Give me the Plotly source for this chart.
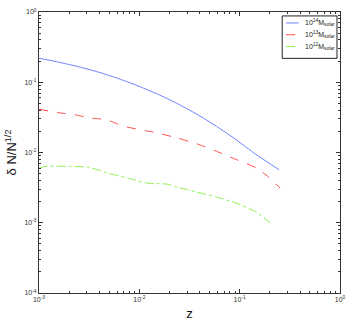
import plotly.graph_objects as go

# ---------------------------------------------------------
# DATA
# ---------------------------------------------------------

z_14 = [0.001, 0.001534, 0.002404, 0.003774, 0.005918, 0.009277, 0.01521, 0.02387,
        0.03743, 0.05871, 0.09204, 0.1445, 0.2477]
dn_14 = [0.220, 0.1945, 0.1680, 0.1415, 0.1153, 0.0910, 0.0678, 0.0498,
         0.0351, 0.0236, 0.01524, 0.00944, 0.00567]

z_13 = [0.001, 0.001534, 0.002404, 0.003013, 0.003774, 0.004723, 0.005918, 0.00741,
        0.01161, 0.01521, 0.02387, 0.03743, 0.05871, 0.09204, 0.1445, 0.1936, 0.2535]
dn_13 = [0.0413, 0.0370, 0.0340, 0.0314, 0.0304, 0.0292, 0.0259, 0.0232,
         0.0204, 0.0189, 0.0161, 0.0133, 0.01043, 0.00796, 0.00609, 0.00449, 0.00311]

z_12 = [0.001, 0.001146, 0.00201, 0.00315, 0.00494, 0.00775, 0.01216, 0.01905, 0.0239,
        0.0374, 0.0587, 0.092, 0.1445, 0.2023]
dn_12 = [0.00595, 0.00635, 0.00635, 0.00615, 0.00506, 0.0043, 0.00366, 0.00354, 0.00321,
         0.00273, 0.00232, 0.00191, 0.00143, 0.0010]

names = ["10<sup>14</sup>M<sub>solar</sub>",
         "10<sup>13</sup>M<sub>solar</sub>",
         "10<sup>12</sup>M<sub>solar</sub>"]

x_major = [-3, -2, -1, 0]
y_major = [-4, -3, -2, -1, 0]

# ---------------------------------------------------------
# STYLE
# ---------------------------------------------------------

FONT = "Liberation Sans, Arial, sans-serif"
COLORS = ["#6b83ff", "#ff4d4d", "#8fef4f"]
DASHES = ["solid", "dash", "dashdot"]

fig = go.Figure()

series = [(z_14, dn_14), (z_13, dn_13), (z_12, dn_12)]
for (zz, dd), name, col, dash in zip(series, names, COLORS, DASHES):
    fig.add_trace(go.Scatter(
        x=zz, y=dd, mode="lines", name=name, showlegend=False,
        line=dict(color=col, width=1, dash=dash, shape="spline", smoothing=0.6),
    ))


def minor_vals(decades):
    vals = []
    for d in decades[:-1]:
        for m in range(2, 10):
            vals.append(m * 10 ** d)
    return vals


axis_common = dict(
    type="log",
    showgrid=False,
    zeroline=False,
    showline=True,
    linecolor="#333333",
    linewidth=1,
    mirror="allticks",
    ticks="inside",
    ticklen=4,
    tickcolor="#333333",
    tickfont=dict(family=FONT, size=7, color="#333333"),
)

fig.update_xaxes(
    **axis_common,
    range=[-3, 0],
    tickmode="array",
    tickvals=[10 ** d for d in x_major],
    ticktext=[f"10<sup>{d}</sup>" for d in x_major],
    minor=dict(tickmode="array", tickvals=minor_vals(x_major), ticks="inside",
               ticklen=2, tickcolor="#333333"),
    title=dict(text="z", font=dict(family=FONT, size=13, color="#111111"), standoff=6),
)

fig.update_yaxes(
    **axis_common,
    range=[-4, 0],
    tickmode="array",
    tickvals=[10 ** d for d in y_major],
    ticktext=[f"10<sup>{d}</sup>" for d in y_major],
    minor=dict(tickmode="array", tickvals=minor_vals(y_major), ticks="inside",
               ticklen=2, tickcolor="#333333"),
    title=dict(text="δ N/N<sup>1/2</sup>", font=dict(family=FONT, size=13, color="#111111"),
               standoff=4),
)

# legend box, drawn MATLAB-style in the top right corner
LEG_X0, LEG_X1, LEG_Y0, LEG_Y1 = 0.808, 0.990, 0.835, 0.986
row_y = [0.961, 0.919, 0.877]

fig.add_shape(type="rect", xref="paper", yref="paper",
              x0=LEG_X0, x1=LEG_X1, y0=LEG_Y0, y1=LEG_Y1,
              line=dict(color="#222222", width=1), fillcolor="white")

for ry, name, col, dash in zip(row_y, names, COLORS, DASHES):
    fig.add_shape(type="line", xref="paper", yref="paper",
                  x0=0.821, x1=0.863, y0=ry, y1=ry,
                  line=dict(color=col, width=1, dash=dash))
    fig.add_annotation(xref="paper", yref="paper", x=0.877, y=ry,
                       xanchor="left", yanchor="middle", showarrow=False,
                       text=name, font=dict(family=FONT, size=7, color="#222222"))

fig.update_layout(
    width=354,
    height=327,
    margin=dict(l=39, r=8, t=10, b=33),
    paper_bgcolor="white",
    plot_bgcolor="white",
    showlegend=False,
)

fig.write_html(
    "out.html",
    config={"displayModeBar": False},
    post_script=("document.body.style.margin='0px';"
                 "document.body.style.overflow='hidden';"
                 "document.documentElement.style.overflow='hidden';"),
)
